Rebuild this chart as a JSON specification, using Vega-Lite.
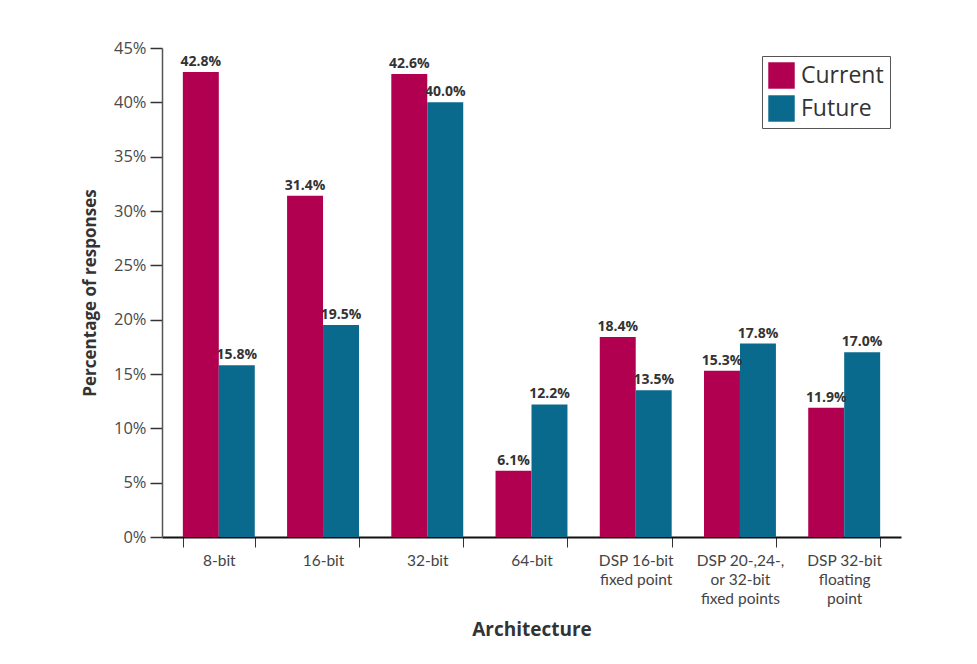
{
  "$schema": "https://vega.github.io/schema/vega-lite/v6.json",
  "width": 739,
  "height": 489,
  "autosize": "none",
  "padding": {"left": 162, "top": 48, "right": 76, "bottom": 127},
  "background": "white",
  "data": {
    "values": [
      {"arch": "8-bit", "series": "Current", "pct": 0.428},
      {"arch": "8-bit", "series": "Future", "pct": 0.158},
      {"arch": "16-bit", "series": "Current", "pct": 0.314},
      {"arch": "16-bit", "series": "Future", "pct": 0.195},
      {"arch": "32-bit", "series": "Current", "pct": 0.426},
      {"arch": "32-bit", "series": "Future", "pct": 0.400},
      {"arch": "64-bit", "series": "Current", "pct": 0.061},
      {"arch": "64-bit", "series": "Future", "pct": 0.122},
      {"arch": "DSP 16-bit|fixed point", "series": "Current", "pct": 0.184},
      {"arch": "DSP 16-bit|fixed point", "series": "Future", "pct": 0.135},
      {"arch": "DSP 20-,24-,|or 32-bit|fixed points", "series": "Current", "pct": 0.153},
      {"arch": "DSP 20-,24-,|or 32-bit|fixed points", "series": "Future", "pct": 0.178},
      {"arch": "DSP 32-bit|floating|point", "series": "Current", "pct": 0.119},
      {"arch": "DSP 32-bit|floating|point", "series": "Future", "pct": 0.170}
    ]
  },
  "encoding": {
    "x": {
      "field": "arch",
      "type": "nominal",
      "sort": null,
      "scale": {"paddingInner": 0.31, "paddingOuter": 0.2},
      "axis": {
        "title": "Architecture",
        "labelAngle": 0,
        "labelExpr": "split(datum.label, '|')",
        "labelFont": "Lato",
        "labelFontSize": 15.5,
        "labelColor": "#444",
        "labelLineHeight": 19,
        "labelPadding": 6,
        "labelOverlap": false,
        "tickBand": "extent",
        "tickSize": 10,
        "tickColor": "#333",
        "domainColor": "#111",
        "domainWidth": 2,
        "titleFont": "Open Sans",
        "titleFontSize": 19,
        "titleFontWeight": "bold",
        "titleColor": "#333",
        "titlePadding": 14
      }
    },
    "y": {
      "field": "pct",
      "type": "quantitative",
      "scale": {"domain": [0, 0.45]},
      "axis": {
        "title": "Percentage of responses",
        "values": [0, 0.05, 0.1, 0.15, 0.2, 0.25, 0.3, 0.35, 0.4, 0.45],
        "format": ".0%",
        "grid": false,
        "labelFont": "Open Sans",
        "labelFontSize": 16.5,
        "labelColor": "#4a4a4a",
        "labelPadding": 4,
        "tickSize": 12,
        "tickColor": "#333",
        "tickWidth": 1.5,
        "domainColor": "#555",
        "domainWidth": 1.5,
        "titleFont": "Open Sans",
        "titleFontSize": 17,
        "titleFontWeight": "bold",
        "titleColor": "#333",
        "titlePadding": 14
      }
    },
    "xOffset": {"field": "series", "type": "nominal"}
  },
  "layer": [
    {
      "mark": {"type": "bar"},
      "encoding": {
        "color": {
          "field": "series",
          "type": "nominal",
          "scale": {"domain": ["Current", "Future"], "range": ["#B0004F", "#0A6A8E"]},
          "legend": {
            "title": null,
            "orient": "none",
            "legendX": 600,
            "legendY": 8,
            "symbolType": "square",
            "symbolSize": 700,
            "symbolStrokeWidth": 0,
            "labelFont": "Open Sans",
            "labelFontSize": 23,
            "labelColor": "#333",
            "labelOffset": 6,
            "rowPadding": 6,
            "padding": 6,
            "strokeColor": "#555",
            "fillColor": "white"
          }
        }
      }
    },
    {
      "mark": {
        "type": "text",
        "dy": -10,
        "font": "Open Sans",
        "fontSize": 14,
        "fontWeight": "bold",
        "color": "#333"
      },
      "encoding": {
        "text": {"field": "pct", "type": "quantitative", "format": ".1%"}
      }
    }
  ],
  "config": {
    "view": {"stroke": null}
  }
}
